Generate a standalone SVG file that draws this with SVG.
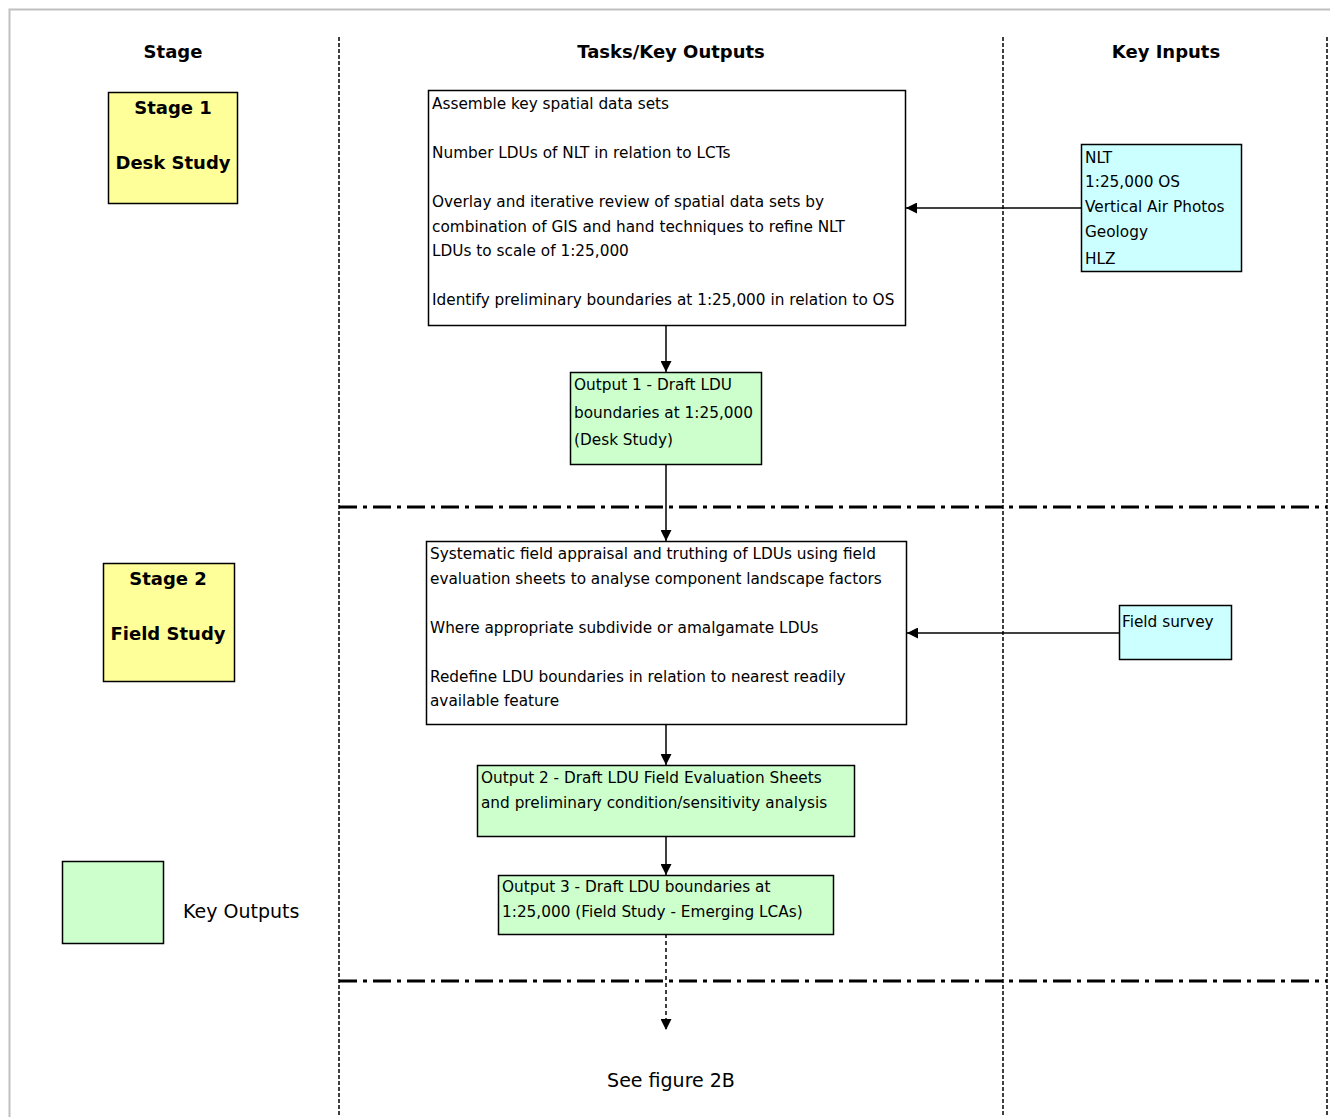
<svg xmlns="http://www.w3.org/2000/svg" width="1334" height="1117" viewBox="0 0 1334 1117">
<defs>
<style>
.t{font-family:"DejaVu Sans","Liberation Sans",sans-serif;font-size:15.3px;fill:#000}
.h{font-family:"DejaVu Sans","Liberation Sans",sans-serif;font-size:18px;font-weight:bold;fill:#000}
.s{font-family:"DejaVu Sans","Liberation Sans",sans-serif;font-size:18px;font-weight:bold;fill:#000}
.l{font-family:"DejaVu Sans","Liberation Sans",sans-serif;font-size:19px;fill:#000}
.box{stroke:#000;stroke-width:1.5}
.vd{stroke:#000;stroke-width:1.5;stroke-dasharray:4 2;fill:none}
.hd{stroke:#000;stroke-width:3;stroke-dasharray:18 6 4 6;fill:none}
.c{stroke:#000;stroke-width:1.5;fill:none}
</style>
<marker id="ah" viewBox="0 0 10 10" refX="10" refY="5" markerWidth="11" markerHeight="11" markerUnits="userSpaceOnUse" orient="auto">
<path d="M0,0 L10,5 L0,10 Z" fill="#000"/>
</marker>
</defs>
<rect width="1334" height="1117" fill="#fff"/>
<g id="frame">
<path d="M9.5,1117 V9.5 H1330" stroke="#c0c0c0" stroke-width="2" fill="none"/>
<line class="vd" x1="339" y1="37" x2="339" y2="1117"/>
<line class="vd" x1="1003" y1="37" x2="1003" y2="1117"/>
<line class="vd" x1="1327" y1="37" x2="1327" y2="1117"/>
<line class="hd" x1="339" y1="507" x2="1327" y2="507"/>
<line class="hd" x1="339" y1="981" x2="1327" y2="981"/>
<text class="h" x="173" y="58" text-anchor="middle">Stage</text>
<text class="h" x="671" y="58" text-anchor="middle">Tasks/Key Outputs</text>
<text class="h" x="1166" y="58" text-anchor="middle">Key Inputs</text>
</g>
<g id="connectors">
<line class="c" x1="1081" y1="208" x2="906" y2="208" marker-end="url(#ah)"/>
<line class="c" x1="666" y1="325" x2="666" y2="372" marker-end="url(#ah)"/>
<line class="c" x1="666" y1="464" x2="666" y2="541" marker-end="url(#ah)"/>
<line class="c" x1="1119" y1="633" x2="907" y2="633" marker-end="url(#ah)"/>
<line class="c" x1="666" y1="724" x2="666" y2="765" marker-end="url(#ah)"/>
<line class="c" x1="666" y1="836" x2="666" y2="875" marker-end="url(#ah)"/>
<line x1="666" y1="934" x2="666" y2="1030" stroke="#000" stroke-width="1.5" stroke-dasharray="4 3" marker-end="url(#ah)"/>
</g>
<g id="stage1">
<rect class="box" x="108.5" y="92.5" width="129" height="111" fill="#ffff99"/>
<text class="s" x="173" y="114" text-anchor="middle">Stage 1</text>
<text class="s" x="173" y="169" text-anchor="middle">Desk Study</text>
</g>
<g id="stage2">
<rect class="box" x="103.5" y="563.5" width="131" height="118" fill="#ffff99"/>
<text class="s" x="168" y="585" text-anchor="middle">Stage 2</text>
<text class="s" x="168" y="640" text-anchor="middle">Field Study</text>
</g>
<g id="task1">
<rect class="box" x="428.5" y="90.5" width="477" height="235" fill="#fff"/>
<text class="t" x="432" y="109">Assemble key spatial data sets</text>
<text class="t" x="432" y="158">Number LDUs of NLT in relation to LCTs</text>
<text class="t" x="432" y="207">Overlay and iterative review of spatial data sets by</text>
<text class="t" x="432" y="232">combination of GIS and hand techniques to refine NLT</text>
<text class="t" x="432" y="256">LDUs to scale of 1:25,000</text>
<text class="t" x="432" y="305">Identify preliminary boundaries at 1:25,000 in relation to OS</text>
</g>
<g id="inputs1">
<rect class="box" x="1081.5" y="144.5" width="160" height="127" fill="#ccffff"/>
<text class="t" x="1085" y="163">NLT</text>
<text class="t" x="1085" y="187">1:25,000 OS</text>
<text class="t" x="1085" y="212">Vertical Air Photos</text>
<text class="t" x="1085" y="237">Geology</text>
<text class="t" x="1085" y="264">HLZ</text>
</g>
<g id="output1">
<rect class="box" x="570.5" y="372.5" width="191" height="92" fill="#ccffcc"/>
<text class="t" x="574" y="390">Output 1 - Draft LDU</text>
<text class="t" x="574" y="418">boundaries at 1:25,000</text>
<text class="t" x="574" y="445">(Desk Study)</text>
</g>
<g id="task2">
<rect class="box" x="426.5" y="541.5" width="480" height="183" fill="#fff"/>
<text class="t" x="430" y="559">Systematic field appraisal and truthing of LDUs using field</text>
<text class="t" x="430" y="584">evaluation sheets to analyse component landscape factors</text>
<text class="t" x="430" y="633">Where appropriate subdivide or amalgamate LDUs</text>
<text class="t" x="430" y="682">Redefine LDU boundaries in relation to nearest readily</text>
<text class="t" x="430" y="706">available feature</text>
</g>
<g id="fieldsurvey">
<rect class="box" x="1119.5" y="605.5" width="112" height="54" fill="#ccffff"/>
<text class="t" x="1122" y="627">Field survey</text>
</g>
<g id="output2">
<rect class="box" x="477.5" y="765.5" width="377" height="71" fill="#ccffcc"/>
<text class="t" x="481" y="783">Output 2 - Draft LDU Field Evaluation Sheets</text>
<text class="t" x="481" y="808">and preliminary condition/sensitivity analysis</text>
</g>
<g id="output3">
<rect class="box" x="498.5" y="875.5" width="335" height="59" fill="#ccffcc"/>
<text class="t" x="502" y="892">Output 3 - Draft LDU boundaries at</text>
<text class="t" x="502" y="917">1:25,000 (Field Study - Emerging LCAs)</text>
</g>
<g id="seefig">
<text class="l" x="671" y="1087" text-anchor="middle">See figure 2B</text>
</g>
<g id="legend">
<rect class="box" x="62.5" y="861.5" width="101" height="82" fill="#ccffcc"/>
<text class="l" x="183" y="918">Key Outputs</text>
</g>
</svg>
